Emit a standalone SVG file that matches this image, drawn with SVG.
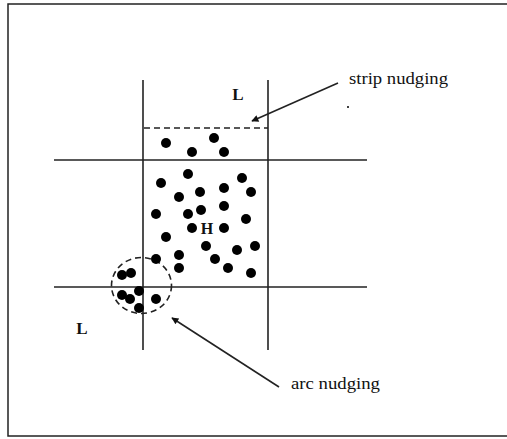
<svg xmlns="http://www.w3.org/2000/svg" width="507" height="439" viewBox="0 0 507 439">
<defs>
<style>
.ln{stroke:#222;stroke-width:1.6;fill:none}
.dash{stroke:#222;stroke-width:1.6;fill:none;stroke-dasharray:6,4}
.dot{fill:#000}
.lbl{font-family:"Liberation Serif",serif;font-size:16px;fill:#111}
.big{font-family:"Liberation Serif",serif;font-size:17px;font-weight:bold;fill:#111}
</style>
<marker id="ah" viewBox="0 0 10 10" refX="9" refY="5" markerWidth="10" markerHeight="7" markerUnits="userSpaceOnUse" orient="auto">
<path d="M0,0 L10,5 L0,10 z" fill="#111"/>
</marker>
</defs>
<rect x="8" y="4" width="505" height="432" fill="#fff" stroke="#222" stroke-width="1.5"/>
<g id="grid">
<line class="ln" x1="143" y1="80" x2="143" y2="350"/>
<line class="ln" x1="268" y1="80" x2="268" y2="350"/>
<line class="ln" x1="54" y1="160" x2="367" y2="160"/>
<line class="ln" x1="54" y1="287" x2="367" y2="287"/>
<line class="dash" x1="144" y1="128" x2="268" y2="128"/>
<ellipse class="dash" cx="141.5" cy="285.5" rx="30" ry="28"/>
</g>
<g id="dots">
<circle class="dot" cx="166" cy="143" r="5"/>
<circle class="dot" cx="192" cy="152" r="5"/>
<circle class="dot" cx="214" cy="138" r="5"/>
<circle class="dot" cx="224" cy="152" r="5"/>
<circle class="dot" cx="188" cy="174" r="5"/>
<circle class="dot" cx="161" cy="183" r="5"/>
<circle class="dot" cx="242" cy="178" r="5"/>
<circle class="dot" cx="179" cy="197" r="5"/>
<circle class="dot" cx="200" cy="192" r="5"/>
<circle class="dot" cx="224" cy="188" r="5"/>
<circle class="dot" cx="251" cy="192" r="5"/>
<circle class="dot" cx="156" cy="214" r="5"/>
<circle class="dot" cx="188" cy="214" r="5"/>
<circle class="dot" cx="201" cy="210" r="5"/>
<circle class="dot" cx="224" cy="206" r="5"/>
<circle class="dot" cx="246" cy="219" r="5"/>
<circle class="dot" cx="192" cy="228" r="5"/>
<circle class="dot" cx="224" cy="228" r="5"/>
<circle class="dot" cx="166" cy="237" r="5"/>
<circle class="dot" cx="206" cy="246" r="5"/>
<circle class="dot" cx="237" cy="250" r="5"/>
<circle class="dot" cx="255" cy="246" r="5"/>
<circle class="dot" cx="156" cy="259" r="5"/>
<circle class="dot" cx="179" cy="255" r="5"/>
<circle class="dot" cx="179" cy="268" r="5"/>
<circle class="dot" cx="215" cy="259" r="5"/>
<circle class="dot" cx="228" cy="268" r="5"/>
<circle class="dot" cx="251" cy="273" r="5"/>
<circle class="dot" cx="122" cy="275" r="5"/>
<circle class="dot" cx="131" cy="273" r="5"/>
<circle class="dot" cx="122" cy="295" r="5"/>
<circle class="dot" cx="130" cy="299" r="5"/>
<circle class="dot" cx="139" cy="291" r="5"/>
<circle class="dot" cx="139" cy="308" r="5"/>
<circle class="dot" cx="156" cy="299" r="5"/>
<circle class="dot" cx="348" cy="107" r="1"/>
</g>
<g id="labels">
<text class="big" x="238" y="100" text-anchor="middle">L</text>
<text class="big" x="82" y="334" text-anchor="middle">L</text>
<text class="lbl" x="207" y="234" text-anchor="middle" font-weight="bold">H</text>
<text class="lbl" x="349" y="84" textLength="99" lengthAdjust="spacingAndGlyphs">strip nudging</text>
<text class="lbl" x="291" y="389" textLength="89" lengthAdjust="spacingAndGlyphs">arc nudging</text>
</g>
<g id="connectors">
<line class="ln" x1="338" y1="83" x2="252" y2="121" marker-end="url(#ah)"/>
<line class="ln" x1="279" y1="387" x2="172" y2="318" marker-end="url(#ah)"/>
</g>
</svg>
